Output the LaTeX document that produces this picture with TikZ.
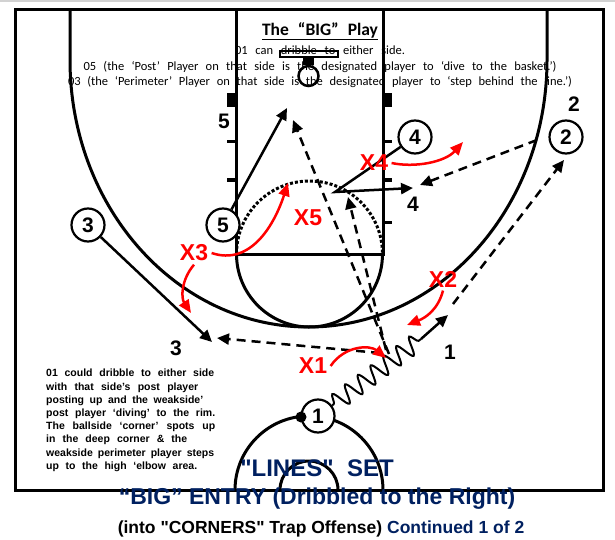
\documentclass[tikz,border=0pt]{standalone}
\usepackage{fontspec}
\setmainfont{Liberation Sans}
\newfontfamily\calibri{Carlito}
\usetikzlibrary{arrows.meta,decorations.pathmorphing}
\definecolor{navy}{RGB}{0,32,96}
\newcommand{\fsize}[2]{\fontsize{#1}{#2}\selectfont}
\begin{document}
\begin{tikzpicture}[x=1pt, y=-1pt,
    court/.style={line width=3pt},
    player/.style={circle, draw, fill=white, line width=2.2pt, minimum size=33pt,
        inner sep=0pt, font=\fsize{21}{21}\bfseries},
    spot/.style={font=\fsize{21}{21}\bfseries},
    defender/.style={text=red, font=\fsize{23}{23}\bfseries},
    cut/.style={line width=2.5pt, -{Triangle[length=12pt,width=11pt]}},
    pass/.style={line width=2.5pt, dash pattern=on 9pt off 6pt,
        -{Triangle[length=12pt,width=11pt]}},
    slide/.style={line width=2.5pt, red, -{Triangle[length=13pt,width=11pt]}},
    dribble/.style={line width=2pt, decorate, decoration={snake, amplitude=9pt,
        segment length=16pt, pre length=2pt, post length=2pt}},
    heading/.style={font=\calibri\fsize{12.5}{12.5}},
    notes/.style={anchor=north west, align=left, inner sep=0pt,
        font=\fsize{10.5}{13.2}\bfseries},
    banner/.style={text=navy}
]
\useasboundingbox (0,0) rectangle (615,540);
\fill[gray!35] (0,0) rectangle (615,2);

\node (Title) [font=\calibri\fsize{17.5}{17.5}\bfseries] at (320,31) {\underline{\makebox[116pt][s]{The “BIG” Play}}};
\node (Line01) [heading] at (320,50) {\makebox[170pt][s]{01 can dribble to either side.}};
\node (Line05) [heading] at (320,67) {\makebox[473pt][s]{05 (the ‘Post’ Player on that side is the designated player to ‘dive to the basket.’)}};
\node (Line03) [heading] at (320,82) {\makebox[504pt][s]{03 (the ‘Perimeter’ Player on that side is the designated player to ‘step behind the line.’)}};

\node (Notes) [notes] at (46,369) {%
\makebox[168pt][s]{01 could dribble to either side}\\
\makebox[152pt][s]{with that side’s post player}\\
\makebox[157pt][s]{posting up and the weakside’}\\
\makebox[169pt][s]{post player ‘diving’ to the rim.}\\
\makebox[169pt][s]{The ballside ‘corner’ spots up}\\
\makebox[141pt][s]{in the deep corner \& the}\\
\makebox[168pt][s]{weakside perimeter player steps}\\
\makebox[151pt][s]{up to the high ‘elbow area.}};

\draw[court] (15,10) rectangle (603,490);
\draw[court] (236,10) -- (236,254) -- (383,254) -- (383,10);
\draw[court] (70,10) -- (70,60) arc[start angle=180, end angle=0, x radius=238.5, y radius=267] -- (547,10);
\draw[court] (236.5,254) arc[start angle=180, end angle=0, radius=73];
\draw[court, dotted] (236.5,254) arc[start angle=180, end angle=360, radius=73];
\draw[court] (235,490) arc[start angle=180, end angle=360, radius=74];
\draw[court] (280,490) arc[start angle=180, end angle=360, radius=29];
\draw[line width=2pt] (280,51) rectangle (338,57);
\fill (303,57) rectangle (314,65);
\draw[line width=2.5pt] (308.5,76) circle (10);
\fill (227,93) rectangle (236,107);
\fill (383,93) rectangle (392,107);
\foreach \y in {142,180,222} {
  \draw[court] (227,\y) -- (236,\y);
  \draw[court] (383,\y) -- (392,\y);
}

\node (Offense01) [player] at (318,416) {1};
\node (Offense02) [player] at (566,137) {2};
\node (Offense03) [player] at (88,225) {3};
\node (Offense04) [player] at (415,137) {4};
\node (Offense05) [player] at (223,225) {5};
\node (Ball) [circle, fill, inner sep=0pt, minimum size=11pt] at (301,417) {};

\coordinate (DribbleEnd) at (421,339);
\coordinate (Catch01) at (389,354);
\coordinate (Catch02) at (386,350);
\coordinate (Pass01) at (380,353);
\coordinate (Wing02) at (537,140);
\coordinate (Lift01) at (453,304);

\draw[dribble] (Offense01) -- (DribbleEnd);
\draw[cut] (DribbleEnd) -- (448,315);
\draw[cut] (Offense05) -- (287,108);
\draw[cut] (Offense04) -- (335,192) -- (413,188);
\draw[cut] (Offense03) -- (212,342);
\draw[pass] (Pass01) -- (217,338);
\draw[pass] (Catch01) -- (293,120);
\draw[pass] (Catch02) -- (348,197);
\draw[pass] (Wing02) -- (420,185);
\draw[pass] (Lift01) -- (564,160);

\node (Spot01) [spot] at (450,352) {1};
\node (Spot02) [spot] at (574,104) {2};
\node (Spot03) [spot] at (176,348) {3};
\node (Spot04) [spot] at (413,204) {4};
\node (Spot05) [spot] at (224,121) {5};

\node (Defense01) [defender] at (313,366) {X1};
\node (Defense02) [defender] at (443,279) {X2};
\node (Defense03) [defender] at (194,253) {X3};
\node (Defense04) [defender] at (374,163) {X4};
\node (Defense05) [defender] at (308,218) {X5};

\draw[slide] (Defense03.east) .. controls (250,266) and (274,226) .. (288,183);
\draw[slide] (Defense03.south) .. controls (181,280) and (181,298) .. (191,313);
\draw[slide] (Defense04.east) .. controls (415,168) and (445,162) .. (463,142);
\draw[slide] (Defense02.south) .. controls (438,310) and (425,318) .. (407,325);
\draw[slide] (Defense01.east) .. controls (345,345) and (370,345) .. (386,358);

\node (Set) [banner, font=\fsize{24}{24}\bfseries] at (317,468) {\textquotedbl LINES\textquotedbl~ SET};
\node (Entry) [banner, font=\fsize{23}{23}\bfseries] at (317,499) {“BIG” ENTRY (Dribbled to the Right)};
\node (Subtitle) [font=\fsize{17.5}{17.5}\bfseries] at (321,529) {(into \textquotedbl CORNERS\textquotedbl\ Trap Offense) \textcolor{navy}{Continued 1 of 2}};
\end{tikzpicture}
\end{document}
